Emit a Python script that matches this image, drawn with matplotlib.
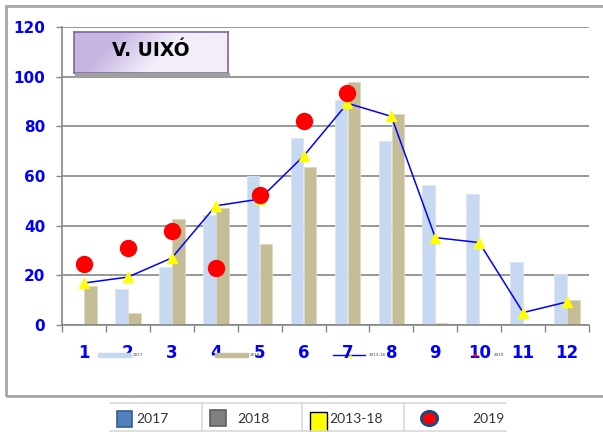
import numpy as np
import matplotlib
matplotlib.use("Agg")
import matplotlib.pyplot as plt
from matplotlib.patches import Rectangle, Ellipse
from matplotlib.lines import Line2D

months = list(range(1, 13))
month_labels = [str(m) for m in months]
v2017 = [0, 14.5, 23.2, 44.3, 60, 75.2, 90.6, 74.1, 56.4, 52.8, 25.2, 20.7]
v2018 = [15.6, 4.8, 42.7, 47.2, 32.5, 63.6, 97.7, 85.0, 1.0, 0, 0, 10.0]
avg_1318 = [16.9, 19.3, 27.0, 48.0, 50.7, 68.0, 89.3, 84.0, 35.2, 33.2, 5.0, 9.3]
v2019 = [24.6, 31.1, 37.9, 23.1, 52.4, 82.2, 93.4, np.nan, np.nan, np.nan, np.nan, np.nan]
yticks = [0, 20, 40, 60, 80, 100, 120]
legend_labels = ["2017", "2018", "2013-18", "2019"]
title = "V. UIXÓ"

W, H = 603, 432
fig = plt.figure(figsize=(W / 100, H / 100), dpi=100)

def fx(x):
    return x / W

def fy(y):
    return 1 - y / H

# outer border
fig.patches.append(Rectangle((fx(6), fy(395.5)), fx(620) - fx(6), fy(5.5) - fy(395.5),
                             transform=fig.transFigure, fill=False, edgecolor="#A6A6A6",
                             linewidth=2, zorder=0))

ax = fig.add_axes([fx(62), fy(325), fx(589) - fx(62), fy(27) - fy(325)])
x = np.arange(len(months))
bw = 0.29
ax.bar(x - 0.148, v2017, width=bw, color="#C6D9F1", edgecolor="#DCE6F2", linewidth=0.6, zorder=2)
ax.bar(x + 0.148, v2018, width=bw, color="#C4BD97", edgecolor="#DDD9C4", linewidth=0.6, zorder=2)
ax.plot(x, avg_1318, color="#0000FF", linewidth=1.1, marker="^", markersize=7,
        markerfacecolor="#FFFF00", markeredgecolor="#FFFF00", zorder=3)
ax.plot(x, v2019, linestyle="none", marker="o", markersize=11.5, markerfacecolor="#FF0000",
        markeredgecolor="#FF0000", zorder=4)

ax.set_xlim(-0.5, len(months) - 0.5)
ax.set_ylim(0, 120)
ax.set_yticks(yticks)
ax.set_yticklabels([str(t) for t in yticks], color="#0000FF", fontweight="bold", fontsize=11)
ax.set_xticks(x)
ax.set_xticklabels(month_labels, color="#0000FF", fontweight="bold", fontsize=12)
ax.set_xticks(np.arange(len(months) + 1) - 0.5, minor=True)
ax.tick_params(axis="x", which="major", length=0, pad=14)
ax.tick_params(axis="x", which="minor", length=5, color="#868686", width=1)
ax.tick_params(axis="y", length=4, color="#868686", width=1, pad=8)
ax.grid(axis="y", color="#868686", linewidth=1.2, zorder=0)
ax.set_axisbelow(True)
for s in ["top", "right"]:
    ax.spines[s].set_visible(False)
for s in ["left", "bottom"]:
    ax.spines[s].set_color("#868686")
    ax.spines[s].set_linewidth(1.2)

# title box with gradient
tax = fig.add_axes([fx(74), fy(73), fx(228) - fx(74), fy(32) - fy(73)])
gx, gy = np.meshgrid(np.linspace(0, 1, 200), np.linspace(0, 1, 50))
t = np.clip((gx * 154 - (1 - gy) * 41 * 0.9 - 10) / 60, 0, 1)
c0 = np.array([0.78, 0.71, 0.88])
c1 = np.array([0.95, 0.93, 0.98])
img = c0[None, None, :] * (1 - t[..., None]) + c1[None, None, :] * t[..., None]
tax.imshow(img, aspect="auto", extent=[0, 1, 0, 1], origin="upper")
tax.set_xlim(0, 1)
tax.set_ylim(0, 1)
tax.set_xticks([])
tax.set_yticks([])
for s in tax.spines.values():
    s.set_color("#8064A2")
    s.set_linewidth(1.2)
tax.text(0.5, 0.55, title, ha="center", va="center", fontsize=13.5, fontweight="bold",
         color="black", family="DejaVu Sans")
fig.patches.append(Rectangle((fx(75), fy(76)), fx(229) - fx(75), fy(73) - fy(76),
                             transform=fig.transFigure, color="#A0A0A0", zorder=0))

# tiny inner legend
ly = fy(355)
fig.patches.append(Rectangle((fx(98), fy(357)), fx(131) - fx(98), fy(353) - fy(357),
                             transform=fig.transFigure, color="#C6D9F1"))
fig.text(fx(133), ly, legend_labels[0], fontsize=3, va="center", color="#404040")
fig.patches.append(Rectangle((fx(215), fy(357)), fx(248) - fx(215), fy(353) - fy(357),
                             transform=fig.transFigure, color="#C4BD97"))
fig.text(fx(250), ly, legend_labels[1], fontsize=3, va="center", color="#404040")
fig.lines.append(Line2D([fx(333), fx(365)], [ly, ly], transform=fig.transFigure,
                        color="#0000FF", linewidth=1))
fig.lines.append(Line2D([fx(350)], [fy(356)], transform=fig.transFigure, marker="^",
                        markersize=2, color="#FFFF00", linestyle="none"))
fig.text(fx(369), ly, legend_labels[2], fontsize=3, va="center", color="#404040")
fig.lines.append(Line2D([fx(475)], [ly], transform=fig.transFigure, marker="o",
                        markersize=1.5, color="#FF0000", linestyle="none"))
fig.text(fx(494), ly, legend_labels[3], fontsize=3, va="center", color="#404040")

# bottom table legend
gc = "#D9D9D9"
for yy in [403, 430.5]:
    fig.lines.append(Line2D([fx(110), fx(506)], [fy(yy), fy(yy)], transform=fig.transFigure,
                            color=gc, linewidth=1.2))
for xx in [201.5, 302, 404]:
    fig.lines.append(Line2D([fx(xx), fx(xx)], [fy(403), fy(432)], transform=fig.transFigure,
                            color=gc, linewidth=1.2))
fig.patches.append(Rectangle((fx(117), fy(427)), fx(132) - fx(117), fy(411) - fy(427),
                             transform=fig.transFigure, facecolor="#4F81BD", edgecolor="#385D8A",
                             linewidth=1.2))
fig.patches.append(Rectangle((fx(210), fy(426)), fx(226) - fx(210), fy(410) - fy(426),
                             transform=fig.transFigure, facecolor="#808080", edgecolor="#5F5F5F",
                             linewidth=1.2))
fig.patches.append(Rectangle((fx(310), fy(433)), fx(327) - fx(310), fy(412) - fy(433),
                             transform=fig.transFigure, facecolor="#FFFF00", edgecolor="black",
                             linewidth=1.0))
fig.patches.append(Ellipse((fx(429.5), fy(418.5)), fx(16), fy(0) - fy(14),
                           transform=fig.transFigure, facecolor="#FF0000", edgecolor="#1F497D",
                           linewidth=2.2))
tfont = dict(fontsize=10, va="center", color="#333333", family="Lato")
fig.text(fx(136), fy(419), legend_labels[0], **tfont)
fig.text(fx(237), fy(419), legend_labels[1], **tfont)
fig.text(fx(329), fy(419), legend_labels[2], **tfont)
fig.text(fx(472), fy(419), legend_labels[3], **tfont)

fig.savefig("out.png", dpi=100)
